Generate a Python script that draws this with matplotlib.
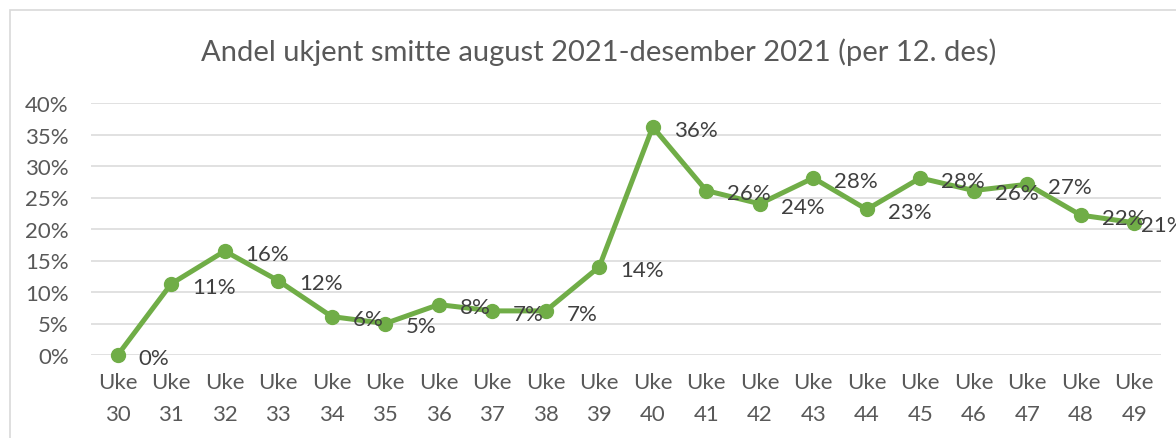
import matplotlib.pyplot as plt
from matplotlib.patches import Rectangle

weeks = ["Uke\n30", "Uke\n31", "Uke\n32", "Uke\n33", "Uke\n34", "Uke\n35", "Uke\n36",
         "Uke\n37", "Uke\n38", "Uke\n39", "Uke\n40", "Uke\n41", "Uke\n42", "Uke\n43",
         "Uke\n44", "Uke\n45", "Uke\n46", "Uke\n47", "Uke\n48", "Uke\n49"]
share = [0.0, 0.113, 0.165, 0.118, 0.061, 0.050, 0.080, 0.070, 0.070, 0.140,
         0.362, 0.261, 0.240, 0.281, 0.231, 0.281, 0.261, 0.271, 0.222, 0.210]
label_text = ["0%", "11%", "16%", "12%", "6%", "5%", "8%", "7%", "7%", "14%",
              "36%", "26%", "24%", "28%", "23%", "28%", "26%", "27%", "22%", "21%"]
yticks = [0, 0.05, 0.10, 0.15, 0.20, 0.25, 0.30, 0.35, 0.40]

plt.rcParams['font.family'] = ['Lato', 'DejaVu Sans']

W, H = 1176, 439
fig = plt.figure(figsize=(W / 100, H / 100), dpi=100)
fig.patch.set_facecolor("white")

# chart frame (cut off at right and bottom)
fig.patches.append(Rectangle((10 / W, -0.1), 1.2, 1 - 11 / H + 0.1, transform=fig.transFigure,
                             facecolor="none", edgecolor="#d9d9d9", linewidth=1.2))

ax = fig.add_axes([91 / W, 1 - 356 / H, (1161 - 91) / W, (356 - 104) / H])
x = list(range(len(weeks)))
ax.plot(x, share, color="#70ad47", linewidth=3.6, marker="o", markersize=10, zorder=3,
        solid_joinstyle="round", clip_on=False)

for i, (xi, v, t) in enumerate(zip(x, share, label_text)):
    dx = 15 if i < len(x) - 1 else 5
    ax.annotate(t, (xi, v), xytext=(dx, -2), textcoords="offset points",
                ha="left", va="center", fontsize=16, color="#404040", zorder=4,
                annotation_clip=False)

ax.set_xlim(-0.5, len(weeks) - 0.5)
ax.set_ylim(0, 0.4)
ax.set_yticks(yticks)
ax.set_yticklabels([f"{int(round(v * 100))}%" for v in yticks])
ax.set_xticks(x)
ax.set_xticklabels(weeks, linespacing=1.75)
ax.tick_params(axis="both", length=0, labelsize=16, colors="#595959")
ax.tick_params(axis="y", pad=16)
ax.tick_params(axis="x", pad=12)
ax.grid(axis="y", color="#d9d9d9", linewidth=1.1)
ax.set_axisbelow(True)
for s in ax.spines.values():
    s.set_visible(False)

fig.text(599 / W, 1 - 52 / H, "Andel ukjent smitte august 2021-desember 2021 (per 12. des)",
         ha="center", va="center", fontsize=21, color="#595959")

fig.savefig("out.png", dpi=100)
